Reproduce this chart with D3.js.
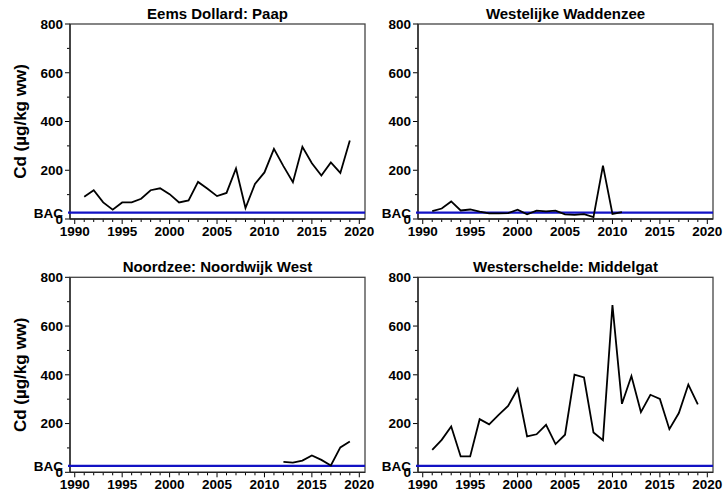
<!DOCTYPE html>
<html><head><meta charset="utf-8">
<script src="https://cdn.jsdelivr.net/npm/d3@7/dist/d3.min.js"></script>
<style>body{margin:0;background:#fff}svg{display:block}text{font-family:"Liberation Sans",Arial,sans-serif;font-weight:bold;fill:#000}</style>
</head><body><svg id="c" width="723" height="499"></svg>
<script>
const titles = ["Eems Dollard: Paap", "Westelijke Waddenzee", "Noordzee: Noordwijk West", "Westerschelde: Middelgat"];
const yearsEems = [1991,1992,1993,1994,1995,1996,1997,1998,1999,2000,2001,2002,2003,2004,2005,2006,2007,2008,2009,2010,2011,2012,2013,2014,2015,2016,2017,2018,2019];
const valuesEems = [91,118,68,38,68,68,83,118,126,102,68,76,152,124,94,107,207,45,144,191,288,217,151,296,229,178,232,189,322];
const yearsWadden = [1991,1992,1993,1994,1995,1996,1997,1998,1999,2000,2001,2002,2003,2004,2005,2006,2007,2008,2009,2010,2011];
const valuesWadden = [32,43,72,35,39,30,23,23,24,38,19,34,31,34,19,17,20,8,219,21,28];
const yearsNoord = [2012,2013,2014,2015,2016,2017,2018,2019];
const valuesNoord = [43,40,48,69,51,28,102,126];
const yearsWester = [1991,1992,1993,1994,1995,1996,1997,1998,1999,2000,2001,2002,2003,2004,2005,2006,2007,2008,2009,2010,2011,2012,2013,2014,2015,2016,2017,2018,2019];
const valuesWester = [92,133,188,65,65,218,197,236,272,342,147,156,195,116,154,401,389,163,132,686,281,395,247,318,301,177,243,360,279];
const BAC = 26;
const xMajorTicks = [1990,1995,2000,2005,2010,2015,2020];
const yMajorTicks = [0,200,400,600,800];
const yLabel = "Cd (µg/kg ww)";

const series = [
  {title: titles[0], years: yearsEems, values: valuesEems},
  {title: titles[1], years: yearsWadden, values: valuesWadden},
  {title: titles[2], years: yearsNoord, values: valuesNoord},
  {title: titles[3], years: yearsWester, values: valuesWester}
];
const pos = [{l:70,t:24},{l:418,t:24},{l:70,t:277.3},{l:418,t:277.3}];
const W = 295, H = 195;
const svg = d3.select("#c");
const x = d3.scaleLinear().domain([1989.5, 2020.6]).range([0, W]);
const y = d3.scaleLinear().domain([0, 800]).range([H, 0]);
const minorX = d3.range(1990, 2021);
const minorY = d3.range(0, 801, 100);

series.forEach((s, i) => {
  const g = svg.append("g").attr("transform", `translate(${pos[i].l},${pos[i].t})`);
  const xa = g.append("g").attr("transform", `translate(0,${H})`);
  xa.selectAll("line.mi").data(minorX).join("line")
    .attr("x1", d => x(d)).attr("x2", d => x(d)).attr("y1", 0)
    .attr("y2", d => xMajorTicks.includes(d) ? 5 : 3).attr("stroke", "#000").attr("stroke-width", 1);
  xa.selectAll("text").data(xMajorTicks).join("text")
    .attr("x", d => x(d)).attr("y", 17).attr("text-anchor", "middle")
    .style("font-size", "13.5px").text(d => d);
  const ya = g.append("g");
  ya.selectAll("line").data(minorY).join("line")
    .attr("x1", d => yMajorTicks.includes(d) ? -5 : -3).attr("x2", 0)
    .attr("y1", d => y(d)).attr("y2", d => y(d)).attr("stroke", "#000").attr("stroke-width", 1);
  ya.selectAll("text").data(yMajorTicks).join("text")
    .attr("x", -7).attr("y", d => y(d)).attr("dy", "0.36em").attr("text-anchor", "end")
    .style("font-size", "13.5px").text(d => d);
  g.append("rect").attr("x", 0).attr("y", 0).attr("width", W).attr("height", H)
    .attr("fill", "none").attr("stroke", "#444").attr("stroke-width", 1.3);
  g.append("line").attr("x1", 0).attr("x2", 0).attr("y1", 0).attr("y2", H).attr("stroke", "#222").attr("stroke-width", 1.3);
  g.append("line").attr("x1", 0).attr("x2", W).attr("y1", H).attr("y2", H).attr("stroke", "#222").attr("stroke-width", 1.3);
  g.append("line").attr("x1", -2).attr("x2", W).attr("y1", y(BAC)).attr("y2", y(BAC))
    .attr("stroke", "#1212c4").attr("stroke-width", 2.2);
  g.append("text").attr("x", -7).attr("y", y(BAC)).attr("dy", "0.36em").attr("text-anchor", "end")
    .style("font-size", "13.5px").text("BAC");
  const line = d3.line().x(d => x(d[0])).y(d => y(d[1]));
  g.append("path").datum(s.years.map((yr, k) => [yr, s.values[k]]))
    .attr("d", line).attr("fill", "none").attr("stroke", "#000").attr("stroke-width", 1.8)
    .attr("stroke-linejoin", "miter");
  g.append("text").attr("x", W / 2).attr("y", -5).attr("text-anchor", "middle")
    .style("font-size", "15px").text(s.title);
  if (i % 2 === 0) {
    g.append("text").attr("transform", `translate(-44,${H / 2}) rotate(-90)`)
      .attr("text-anchor", "middle").style("font-size", "17px").text(yLabel);
  }
});
</script></body></html>
